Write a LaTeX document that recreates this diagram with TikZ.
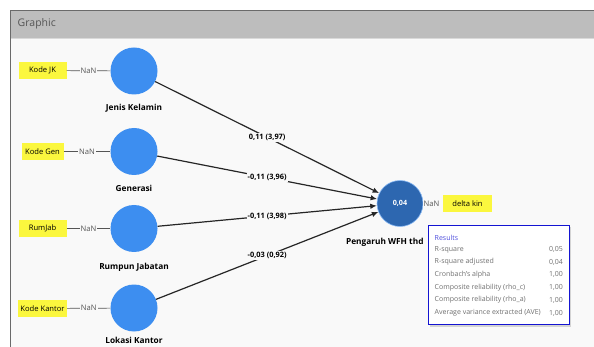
\documentclass[tikz,border=0pt]{standalone}
\usepackage{fontspec}
\setmainfont{Open Sans}
\usetikzlibrary{arrows.meta,shadows}
\definecolor{panelbg}{HTML}{F9F9F9}
\definecolor{headbg}{HTML}{BDBDBD}
\definecolor{framec}{HTML}{6A6A6A}
\definecolor{lvblue}{HTML}{3D8EF0}
\definecolor{tgblue}{HTML}{2D67B0}
\definecolor{ind}{HTML}{FBF73E}
\definecolor{grtext}{HTML}{555555}
\definecolor{restext}{HTML}{707070}
\definecolor{resblue}{HTML}{1414D2}
\tikzset{
  lv/.style={circle, fill=lvblue, minimum size=47pt, inner sep=0pt},
  tg/.style={circle, fill=tgblue, draw=lvblue!60, line width=0.6pt, minimum size=46pt, inner sep=0pt, text=white, font=\fontsize{7.2}{8}\selectfont\bfseries},
  indbox/.style={fill=ind, minimum width=48pt, minimum height=17pt, inner sep=0pt, font=\fontsize{7.6}{8}\selectfont},
  nan/.style={fill=panelbg, inner sep=1pt, text=grtext, font=\fontsize{7.6}{8}\selectfont},
  lvlabel/.style={font=\fontsize{8.3}{9}\selectfont\bfseries},
  elabel/.style={fill=panelbg, inner sep=1.2pt, font=\fontsize{7.4}{9}\selectfont\bfseries},
  ilink/.style={draw=grtext, line width=0.7pt},
  pathline/.style={draw=black!85, line width=1.2pt, -{Latex[length=6.5pt,width=5.5pt]}},
  restxt/.style={anchor=west, inner sep=0pt, text=restext, font=\fontsize{7}{8}\selectfont},
  resval/.style={anchor=east, inner sep=0pt, text=restext, font=\fontsize{7}{8}\selectfont}
}
\begin{document}
\begin{tikzpicture}[x=1pt,y=-1pt]
\useasboundingbox (0,0) rectangle (594,347);
\fill[white] (0,0) rectangle (594,347);
% panel
\fill[panelbg] (10,10) rectangle (600,360);
\fill[headbg] (10,10) rectangle (600,38);
\draw[white!85!black, line width=0.8pt] (10,38.4) -- (600,38.4);
\draw[framec, line width=1.2pt] (10.3,360) -- (10.3,10.3) -- (600,10.3);
\node[anchor=west, text=grtext, font=\fontsize{10.5}{12}\selectfont, inner sep=0pt] (title) at (17.5,24) {Graphic};
% latent variables
\node[lv] (jk) at (134,71) {};
\node[lv] (gen) at (134,151.5) {};
\node[lv] (rj) at (134,228.5) {};
\node[lv] (lk) at (134,308) {};
\node[tg] (wfh) at (400,203.5) {0,04};
% labels
\node[lvlabel] (ljk) at (134,108) {Jenis Kelamin};
\node[lvlabel] (lgen) at (134,188.5) {Generasi};
\node[lvlabel] (lrj) at (134,267) {Rumpun Jabatan};
\node[lvlabel] (llk) at (134,340.5) {Lokasi Kantor};
\node[lvlabel, anchor=west] (lwfh) at (342.5,242) {Pengaruh WFH thd};
% indicators
\node[indbox] (ijk) at (42.5,70.5) {Kode JK};
\node[indbox, minimum width=42pt] (igen) at (42.5,151.5) {Kode Gen};
\node[indbox] (irj) at (42.5,228.5) {RumJab};
\node[indbox, minimum width=49pt] (ilk) at (42.5,308.5) {Kode Kantor};
\node[indbox, minimum width=49pt] (iwfh) at (467.5,203.5) {delta kin};
\draw[ilink] (ijk) -- node[nan] {NaN} (jk);
\draw[ilink] (igen) -- node[nan] {NaN} (gen);
\draw[ilink] (irj) -- node[nan] {NaN} (rj);
\draw[ilink] (ilk) -- node[nan] {NaN} (lk);
\draw[ilink, draw=none] (wfh) -- node[nan, xshift=-1.5pt] {NaN} (iwfh);
% paths
\draw[pathline] (jk) -- node[elabel] {0,11 (3,97)} (wfh);
\draw[pathline] (gen) -- node[elabel] {-0,11 (3,96)} (wfh);
\draw[pathline] (rj) -- node[elabel] {-0,11 (3,98)} (wfh);
\draw[pathline] (lk) -- node[elabel] {-0,03 (0,92)} (wfh);
% results box
\node[draw=resblue, line width=1.8pt, fill=white, minimum width=141pt, minimum height=99pt, inner sep=0pt,
  drop shadow={shadow xshift=1.8pt, shadow yshift=-2pt, opacity=0.3}] (res) at (499,275) {};
\node[restxt, text=resblue!75] (rh) at (434.5,237.5) {Results};
\node[restxt] (r1) at (434.5,249.5) {R-square};
\node[restxt] (r2) at (434.5,262) {R-square adjusted};
\node[restxt] (r3) at (434.5,274.5) {Cronbach's alpha};
\node[restxt] (r4) at (434.5,287.5) {Composite reliability (rho\_c)};
\node[restxt] (r5) at (434.5,300) {Composite reliability (rho\_a)};
\node[restxt] (r6) at (434.5,313) {Average variance extracted (AVE)};
\node[resval] (v1) at (563,249.5) {0,05};
\node[resval] (v2) at (563,262) {0,04};
\node[resval] (v3) at (563,274.5) {1,00};
\node[resval] (v4) at (563,287.5) {1,00};
\node[resval] (v5) at (563,300) {1,00};
\node[resval] (v6) at (563,313) {1,00};
\end{tikzpicture}
\end{document}
